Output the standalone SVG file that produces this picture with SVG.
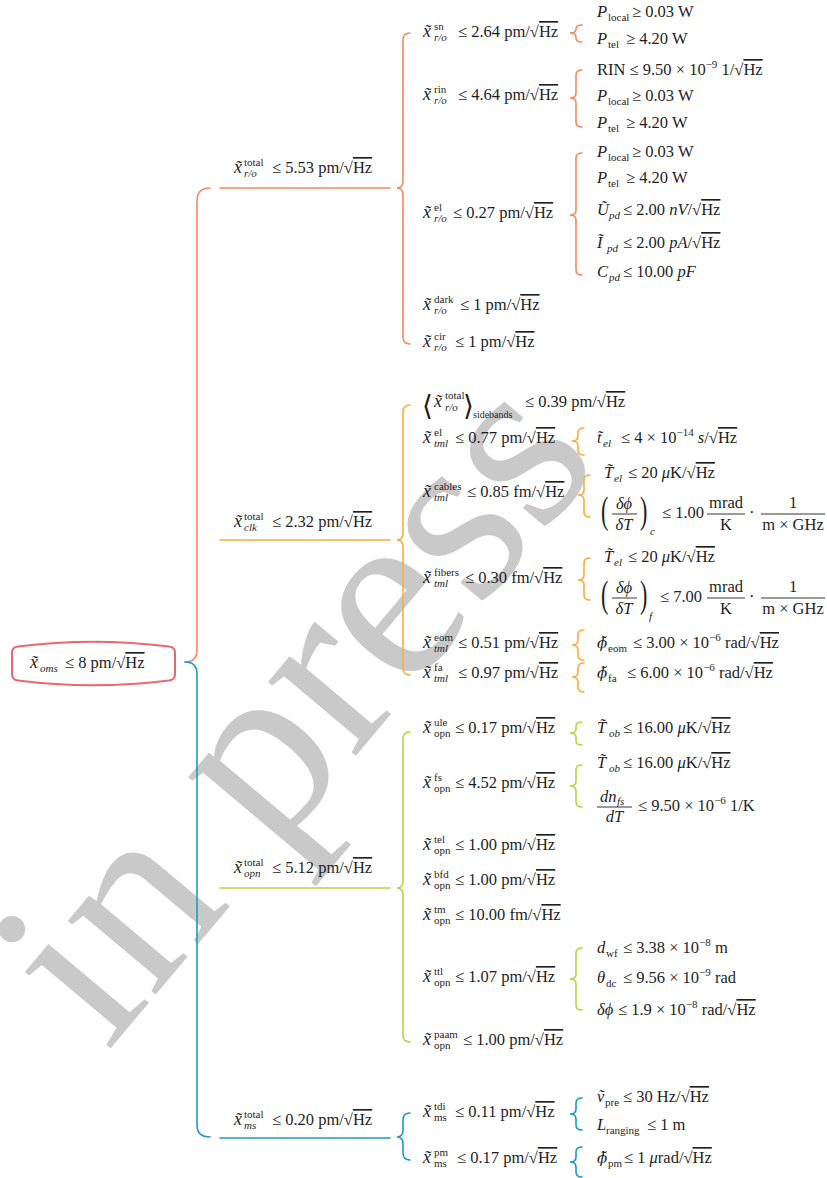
<svg xmlns="http://www.w3.org/2000/svg" width="827" height="1178" viewBox="0 0 827 1178">
<defs>
<style>
.m{font-family:"Liberation Serif","DejaVu Serif",serif;font-size:16.5px;fill:#1e1e1e}
.i{font-style:italic}
.xv{font-size:18px}
.ph{font-family:"DejaVu Serif",serif;font-size:15px}
.s{font-size:11px}
.ss{font-size:10px}
.bg{font-size:28px;font-family:"DejaVu Serif",serif}
.bp{font-size:22px}
.o{text-decoration:overline}
.wm{font-family:"Liberation Serif","DejaVu Serif",serif;font-size:250px;fill:#c9c9c9}
.br{fill:none;stroke-width:1.6;stroke-linecap:round}
.c0{stroke:#ec666d}
.c1{stroke:#f7875f}
.c2{stroke:#f9ad3e}
.c3{stroke:#bdd042}
.c4{stroke:#1d9bc1}
.bar{stroke:#1e1e1e;stroke-width:0.9}
</style>
</defs>
<rect width="827" height="1178" fill="#ffffff"/>
<g id="watermark"><text class="wm" text-anchor="middle" transform="translate(355,757) rotate(-50)">in press</text></g>

<g id="connectors">
<path class="br c1" stroke-width="2" d="M210,188 Q197,188 197,201 L197,650 Q197,662 185,662"/>
<path class="br c4" stroke-width="2" d="M185,662 Q197,662 197,674 L197,1125 Q197,1137 210,1137"/>
<path class="br c1" d="M410,33 Q403,33 403,40 L403,181 Q403,188 397,188 Q403,188 403,195 L403,337 Q403,344 410,344"/>
<path class="br c2" d="M410,405 Q403,405 403,412 L403,533 Q403,540 397,540 Q403,540 403,547 L403,668 Q403,675 410,675"/>
<path class="br c3" d="M410,732 Q403,732 403,739 L403,881 Q403,888 397,888 Q403,888 403,895 L403,1035 Q403,1042 410,1042"/>
<path class="br c4" d="M410,1113 Q403,1113 403,1120 L403,1130 Q403,1137 397,1137 Q403,1137 403,1144 L403,1153 Q403,1160 410,1160"/>
<path class="br c1" d="M582,25 Q576,25 576,29 Q576,33 570,33 Q576,33 576,37 L576,38 Q576,42 582,42"/>
<path class="br c1" d="M582,70 Q576,70 576,75 L576,93 Q576,98 570,98 Q576,98 576,103 L576,122 Q576,127 582,127"/>
<path class="br c1" d="M582,153 Q576,153 576,158 L576,210 Q576,215 570,215 Q576,215 576,220 L576,270 Q576,275 582,275"/>
<path class="br c2" d="M584,428 Q578,428 578,433 L578,436 Q578,441 572,441 Q578,441 578,446 L578,450 Q578,455 584,455"/>
<path class="br c2" d="M590,475 Q584,475 584,480 L584,490 Q584,495 578,495 Q584,495 584,500 L584,512 Q584,517 590,517"/>
<path class="br c2" d="M590,558 Q584,558 584,563 L584,575 Q584,580 578,580 Q584,580 584,585 L584,595 Q584,600 590,600"/>
<path class="br c2" d="M584,630 Q578,630 578,635 L578,640 Q578,645 572,645 Q578,645 578,650 L578,655 Q578,660 584,660"/>
<path class="br c2" d="M584,663 Q578,663 578,668 L578,672 Q578,677 572,677 Q578,677 578,682 L578,687 Q578,692 584,692"/>
<path class="br c3" d="M582,722 Q576,722 576,726 L576,729 Q576,733 570,733 Q576,733 576,737 L576,741 Q576,745 582,745"/>
<path class="br c3" d="M582,765 Q576,765 576,770 L576,781 Q576,786 570,786 Q576,786 576,791 L576,802 Q576,807 582,807"/>
<path class="br c3" d="M582,948 Q576,948 576,953 L576,974 Q576,979 570,979 Q576,979 576,984 L576,1005 Q576,1010 582,1010"/>
<path class="br c4" d="M582,1098 Q576,1098 576,1103 L576,1109 Q576,1114 570,1114 Q576,1114 576,1119 L576,1125 Q576,1130 582,1130"/>
<path class="br c4" d="M582,1147 Q576,1147 576,1152 L576,1157 Q576,1162 570,1162 Q576,1162 576,1167 L576,1172 Q576,1177 582,1177"/>
</g>

<g id="root">
<path d="M12,653 Q12,647 18,646.5 Q93,637 169,646.5 Q175,647 175,653 L175,674 Q175,680 169,680.5 Q93,690 18,680.5 Q12,680 12,674 Z" fill="#ffffff" stroke="#ec666d" stroke-width="2"/>
<text class="m" x="30" y="668"><tspan class="i xv">x̃</tspan><tspan class="s i" x="40" y="672">oms</tspan><tspan x="65" y="668">≤ 8 pm/√<tspan class="o">Hz</tspan></tspan></text>
</g>

<g id="ro_total">
<line class="br c1" x1="220" y1="188" x2="390" y2="188"/>
<text class="m" x="234" y="173"><tspan class="i xv">x̃</tspan><tspan class="s" x="244" y="166">total</tspan><tspan class="s i" x="244" y="177">r/o</tspan><tspan x="272" y="173">≤ 5.53 pm/√<tspan class="o">Hz</tspan></tspan></text>
</g>
<g id="clk_total">
<line class="br c2" x1="220" y1="540" x2="390" y2="540"/>
<text class="m" x="234" y="527"><tspan class="i xv">x̃</tspan><tspan class="s" x="244" y="520">total</tspan><tspan class="s i" x="244" y="531">clk</tspan><tspan x="272" y="527">≤ 2.32 pm/√<tspan class="o">Hz</tspan></tspan></text>
</g>
<g id="opn_total">
<line class="br c3" x1="220" y1="888" x2="390" y2="888"/>
<text class="m" x="234" y="873"><tspan class="i xv">x̃</tspan><tspan class="s" x="244" y="866">total</tspan><tspan class="s i" x="244" y="877">opn</tspan><tspan x="272" y="873">≤ 5.12 pm/√<tspan class="o">Hz</tspan></tspan></text>
</g>
<g id="ms_total">
<line class="br c4" x1="220" y1="1138" x2="390" y2="1138"/>
<text class="m" x="234" y="1125"><tspan class="i xv">x̃</tspan><tspan class="s" x="244" y="1118">total</tspan><tspan class="s i" x="244" y="1129">ms</tspan><tspan x="272" y="1125">≤ 0.20 pm/√<tspan class="o">Hz</tspan></tspan></text>
</g>

<g id="ro_sn"><text class="m" x="423" y="37"><tspan class="i xv">x̃</tspan><tspan class="s" x="434" y="30">sn</tspan><tspan class="s i" x="434" y="41">r/o</tspan><tspan x="458" y="37">≤ 2.64 pm/√<tspan class="o">Hz</tspan></tspan></text></g>
<g id="ro_rin"><text class="m" x="423" y="100"><tspan class="i xv">x̃</tspan><tspan class="s" x="434" y="93">rin</tspan><tspan class="s i" x="434" y="104">r/o</tspan><tspan x="458" y="100">≤ 4.64 pm/√<tspan class="o">Hz</tspan></tspan></text></g>
<g id="ro_el"><text class="m" x="423" y="218"><tspan class="i xv">x̃</tspan><tspan class="s" x="434" y="211">el</tspan><tspan class="s i" x="434" y="222">r/o</tspan><tspan x="453" y="218">≤ 0.27 pm/√<tspan class="o">Hz</tspan></tspan></text></g>
<g id="ro_dark"><text class="m" x="423" y="310"><tspan class="i xv">x̃</tspan><tspan class="s" x="434" y="303">dark</tspan><tspan class="s i" x="434" y="314">r/o</tspan><tspan x="460" y="310">≤ 1 pm/√<tspan class="o">Hz</tspan></tspan></text></g>
<g id="ro_cir"><text class="m" x="423" y="347"><tspan class="i xv">x̃</tspan><tspan class="s" x="434" y="340">cir</tspan><tspan class="s i" x="434" y="351">r/o</tspan><tspan x="455" y="347">≤ 1 pm/√<tspan class="o">Hz</tspan></tspan></text></g>

<g id="sn_plocal"><text class="m" x="597" y="17"><tspan class="i">P</tspan><tspan class="s" x="608" y="21">local</tspan><tspan x="632" y="17">≥ 0.03 W</tspan></text></g>
<g id="sn_ptel"><text class="m" x="597" y="44"><tspan class="i">P</tspan><tspan class="s" x="608" y="48">tel</tspan><tspan x="626" y="44">≥ 4.20 W</tspan></text></g>
<g id="rin_rin"><text class="m" x="597" y="75">RIN ≤ 9.50 × 10<tspan class="s" dy="-7">−9</tspan><tspan dy="7"> 1/√<tspan class="o">Hz</tspan></tspan></text></g>
<g id="rin_plocal"><text class="m" x="597" y="101"><tspan class="i">P</tspan><tspan class="s" x="608" y="105">local</tspan><tspan x="632" y="101">≥ 0.03 W</tspan></text></g>
<g id="rin_ptel"><text class="m" x="597" y="128"><tspan class="i">P</tspan><tspan class="s" x="608" y="132">tel</tspan><tspan x="626" y="128">≥ 4.20 W</tspan></text></g>
<g id="el_plocal"><text class="m" x="597" y="157"><tspan class="i">P</tspan><tspan class="s" x="608" y="161">local</tspan><tspan x="632" y="157">≥ 0.03 W</tspan></text></g>
<g id="el_ptel"><text class="m" x="597" y="183"><tspan class="i">P</tspan><tspan class="s" x="608" y="187">tel</tspan><tspan x="626" y="183">≥ 4.20 W</tspan></text></g>
<g id="el_upd"><text class="m" x="597" y="215"><tspan class="i">Ũ</tspan><tspan class="s i" x="609" y="219">pd</tspan><tspan x="623" y="215">≤ 2.00 <tspan class="i">nV</tspan>/√<tspan class="o">Hz</tspan></tspan></text></g>
<g id="el_ipd"><text class="m" x="597" y="248"><tspan class="i">Ĩ</tspan><tspan class="s i" x="607" y="252">pd</tspan><tspan x="623" y="248">≤ 2.00 <tspan class="i">pA</tspan>/√<tspan class="o">Hz</tspan></tspan></text></g>
<g id="el_cpd"><text class="m" x="597" y="277"><tspan class="i">C</tspan><tspan class="s i" x="609" y="281">pd</tspan><tspan x="623" y="277">≤ 10.00 <tspan class="i">pF</tspan></tspan></text></g>

<g id="clk_sidebands"><text class="m" x="422" y="407"><tspan class="bg" x="422" y="415">⟨</tspan><tspan class="i xv" x="434" y="407">x̃</tspan><tspan class="s" x="445" y="399">total</tspan><tspan class="s i" x="445" y="411">r/o</tspan><tspan class="bg" x="463" y="415">⟩</tspan><tspan class="ss" x="473" y="418">sidebands</tspan><tspan x="525" y="407">≤ 0.39 pm/√<tspan class="o">Hz</tspan></tspan></text></g>
<g id="clk_el"><text class="m" x="423" y="443"><tspan class="i xv">x̃</tspan><tspan class="s" x="434" y="436">el</tspan><tspan class="s i" x="434" y="447">tml</tspan><tspan x="455" y="443">≤ 0.77 pm/√<tspan class="o">Hz</tspan></tspan></text></g>
<g id="clk_cables"><text class="m" x="423" y="497"><tspan class="i xv">x̃</tspan><tspan class="s" x="434" y="490">cables</tspan><tspan class="s i" x="434" y="501">tml</tspan><tspan x="467" y="497">≤ 0.85 fm/√<tspan class="o">Hz</tspan></tspan></text></g>
<g id="clk_fibers"><text class="m" x="423" y="583"><tspan class="i xv">x̃</tspan><tspan class="s" x="434" y="576">fibers</tspan><tspan class="s i" x="434" y="587">tml</tspan><tspan x="465" y="583">≤ 0.30 fm/√<tspan class="o">Hz</tspan></tspan></text></g>
<g id="clk_eom"><text class="m" x="423" y="648"><tspan class="i xv">x̃</tspan><tspan class="s" x="434" y="641">eom</tspan><tspan class="s i" x="434" y="652">tml</tspan><tspan x="458" y="648">≤ 0.51 pm/√<tspan class="o">Hz</tspan></tspan></text></g>
<g id="clk_fa"><text class="m" x="423" y="678"><tspan class="i xv">x̃</tspan><tspan class="s" x="434" y="671">fa</tspan><tspan class="s i" x="434" y="682">tml</tspan><tspan x="458" y="678">≤ 0.97 pm/√<tspan class="o">Hz</tspan></tspan></text></g>

<g id="tml_el_t"><text class="m" x="597" y="443"><tspan class="i">t̃</tspan><tspan class="s i" x="603" y="447">el</tspan><tspan x="621" y="443">≤ 4 × 10<tspan class="s" dy="-7">−14</tspan><tspan dy="7"> <tspan class="i">s</tspan>/√<tspan class="o">Hz</tspan></tspan></tspan></text></g>
<g id="cables_tel"><text class="m" x="604" y="478"><tspan class="i">T̃</tspan><tspan class="s i" x="614" y="482">el</tspan><tspan x="628" y="478">≤ 20 <tspan class="i">μ</tspan>K/√<tspan class="o">Hz</tspan></tspan></text></g>
<g id="cables_dphi">
<text class="m bp" transform="translate(601,514) scale(1,1.7)" x="0" y="5.5">(</text>
<text class="m i" x="624" y="509" text-anchor="middle">δϕ</text>
<line class="bar" x1="612" y1="514" x2="637" y2="514"/>
<text class="m i" x="624" y="530" text-anchor="middle">δT</text>
<text class="m bp" transform="translate(640,514) scale(1,1.7)" x="0" y="5.5">)</text>
<text class="m s i" x="650" y="535">c</text>
<text class="m" x="662" y="518">≤ 1.00</text>
<text class="m" x="726" y="508" text-anchor="middle">mrad</text>
<line class="bar" x1="707" y1="514" x2="745" y2="514"/>
<text class="m" x="726" y="530" text-anchor="middle">K</text>
<text class="m" x="749" y="518">·</text>
<text class="m" x="793" y="508" text-anchor="middle">1</text>
<line class="bar" x1="761" y1="514" x2="825" y2="514"/>
<text class="m" x="793" y="530" text-anchor="middle">m × GHz</text>
</g>
<g id="fibers_tel"><text class="m" x="604" y="562"><tspan class="i">T̃</tspan><tspan class="s i" x="614" y="566">el</tspan><tspan x="628" y="562">≤ 20 <tspan class="i">μ</tspan>K/√<tspan class="o">Hz</tspan></tspan></text></g>
<g id="fibers_dphi">
<text class="m bp" transform="translate(601,598) scale(1,1.7)" x="0" y="5.5">(</text>
<text class="m i" x="624" y="593" text-anchor="middle">δϕ</text>
<line class="bar" x1="612" y1="598" x2="637" y2="598"/>
<text class="m i" x="624" y="614" text-anchor="middle">δT</text>
<text class="m bp" transform="translate(640,598) scale(1,1.7)" x="0" y="5.5">)</text>
<text class="m s i" x="649" y="620">f</text>
<text class="m" x="660" y="602">≤ 7.00</text>
<text class="m" x="726" y="592" text-anchor="middle">mrad</text>
<line class="bar" x1="707" y1="598" x2="745" y2="598"/>
<text class="m" x="726" y="614" text-anchor="middle">K</text>
<text class="m" x="749" y="602">·</text>
<text class="m" x="793" y="592" text-anchor="middle">1</text>
<line class="bar" x1="761" y1="598" x2="825" y2="598"/>
<text class="m" x="793" y="614" text-anchor="middle">m × GHz</text>
</g>
<g id="eom_phi"><text class="m" x="597" y="648"><tspan class="i ph">ϕ̃</tspan><tspan class="s" x="608" y="652">eom</tspan><tspan x="633" y="648">≤ 3.00 × 10<tspan class="s" dy="-7">−6</tspan><tspan dy="7"> rad/√<tspan class="o">Hz</tspan></tspan></tspan></text></g>
<g id="fa_phi"><text class="m" x="597" y="678"><tspan class="i ph">ϕ̃</tspan><tspan class="s" x="608" y="682">fa</tspan><tspan x="627" y="678">≤ 6.00 × 10<tspan class="s" dy="-7">−6</tspan><tspan dy="7"> rad/√<tspan class="o">Hz</tspan></tspan></tspan></text></g>

<g id="opn_ule"><text class="m" x="423" y="733"><tspan class="i xv">x̃</tspan><tspan class="s" x="434" y="726">ule</tspan><tspan class="s" x="434" y="737">opn</tspan><tspan x="455" y="733">≤ 0.17 pm/√<tspan class="o">Hz</tspan></tspan></text></g>
<g id="opn_fs"><text class="m" x="423" y="788"><tspan class="i xv">x̃</tspan><tspan class="s" x="434" y="781">fs</tspan><tspan class="s" x="434" y="792">opn</tspan><tspan x="455" y="788">≤ 4.52 pm/√<tspan class="o">Hz</tspan></tspan></text></g>
<g id="opn_tel"><text class="m" x="423" y="850"><tspan class="i xv">x̃</tspan><tspan class="s" x="434" y="843">tel</tspan><tspan class="s" x="434" y="854">opn</tspan><tspan x="455" y="850">≤ 1.00 pm/√<tspan class="o">Hz</tspan></tspan></text></g>
<g id="opn_bfd"><text class="m" x="423" y="885"><tspan class="i xv">x̃</tspan><tspan class="s" x="434" y="878">bfd</tspan><tspan class="s" x="434" y="889">opn</tspan><tspan x="455" y="885">≤ 1.00 pm/√<tspan class="o">Hz</tspan></tspan></text></g>
<g id="opn_tm"><text class="m" x="423" y="920"><tspan class="i xv">x̃</tspan><tspan class="s" x="434" y="913">tm</tspan><tspan class="s" x="434" y="924">opn</tspan><tspan x="455" y="920">≤ 10.00 fm/√<tspan class="o">Hz</tspan></tspan></text></g>
<g id="opn_ttl"><text class="m" x="423" y="982"><tspan class="i xv">x̃</tspan><tspan class="s" x="434" y="975">ttl</tspan><tspan class="s" x="434" y="986">opn</tspan><tspan x="455" y="982">≤ 1.07 pm/√<tspan class="o">Hz</tspan></tspan></text></g>
<g id="opn_paam"><text class="m" x="423" y="1045"><tspan class="i xv">x̃</tspan><tspan class="s" x="434" y="1038">paam</tspan><tspan class="s" x="434" y="1049">opn</tspan><tspan x="463" y="1045">≤ 1.00 pm/√<tspan class="o">Hz</tspan></tspan></text></g>

<g id="ule_tob"><text class="m" x="597" y="733"><tspan class="i">T̃</tspan><tspan class="s i" x="609" y="737">ob</tspan><tspan x="623" y="733">≤ 16.00 <tspan class="i">μ</tspan>K/√<tspan class="o">Hz</tspan></tspan></text></g>
<g id="fs_tob"><text class="m" x="597" y="768"><tspan class="i">T̃</tspan><tspan class="s i" x="609" y="772">ob</tspan><tspan x="623" y="768">≤ 16.00 <tspan class="i">μ</tspan>K/√<tspan class="o">Hz</tspan></tspan></text></g>
<g id="fs_dndt">
<text class="m i" x="600" y="802">dn</text>
<text class="m s i" x="617" y="805">fs</text>
<line class="bar" x1="597" y1="807" x2="632" y2="807"/>
<text class="m i" x="614.5" y="822" text-anchor="middle">dT</text>
<text class="m" x="638" y="811">≤ 9.50 × 10<tspan class="s" dy="-7">−6</tspan><tspan dy="7"> 1/K</tspan></text>
</g>
<g id="ttl_dwf"><text class="m" x="597" y="953"><tspan class="i">d</tspan><tspan class="s" x="606" y="957">wf</tspan><tspan x="623" y="953">≤ 3.38 × 10<tspan class="s" dy="-7">−8</tspan><tspan dy="7"> m</tspan></tspan></text></g>
<g id="ttl_theta"><text class="m" x="597" y="983"><tspan class="i">θ</tspan><tspan class="s" x="606" y="987">dc</tspan><tspan x="623" y="983">≤ 9.56 × 10<tspan class="s" dy="-7">−9</tspan><tspan dy="7"> rad</tspan></tspan></text></g>
<g id="ttl_dphi"><text class="m" x="597" y="1015"><tspan class="i">δϕ</tspan><tspan x="618" y="1015">≤ 1.9 × 10<tspan class="s" dy="-7">−8</tspan><tspan dy="7"> rad/√<tspan class="o">Hz</tspan></tspan></tspan></text></g>

<g id="ms_tdi"><text class="m" x="423" y="1117"><tspan class="i xv">x̃</tspan><tspan class="s" x="434" y="1110">tdi</tspan><tspan class="s" x="434" y="1121">ms</tspan><tspan x="455" y="1117">≤ 0.11 pm/√<tspan class="o">Hz</tspan></tspan></text></g>
<g id="ms_pm"><text class="m" x="423" y="1163"><tspan class="i xv">x̃</tspan><tspan class="s" x="434" y="1156">pm</tspan><tspan class="s" x="434" y="1167">ms</tspan><tspan x="457" y="1163">≤ 0.17 pm/√<tspan class="o">Hz</tspan></tspan></text></g>
<g id="tdi_vpre"><text class="m" x="597" y="1102"><tspan class="i">ṽ</tspan><tspan class="s" x="605" y="1106">pre</tspan><tspan x="623" y="1102">≤ 30 Hz/√<tspan class="o">Hz</tspan></tspan></text></g>
<g id="tdi_lrng"><text class="m" x="597" y="1130"><tspan class="i">L</tspan><tspan class="s" x="606" y="1134">ranging</tspan><tspan x="647" y="1130">≤ 1 m</tspan></text></g>
<g id="pm_phi"><text class="m" x="597" y="1163"><tspan class="i ph">ϕ̃</tspan><tspan class="s" x="608" y="1167">pm</tspan><tspan x="624" y="1163">≤ 1 <tspan class="i">μ</tspan>rad/√<tspan class="o">Hz</tspan></tspan></text></g>
</svg>
